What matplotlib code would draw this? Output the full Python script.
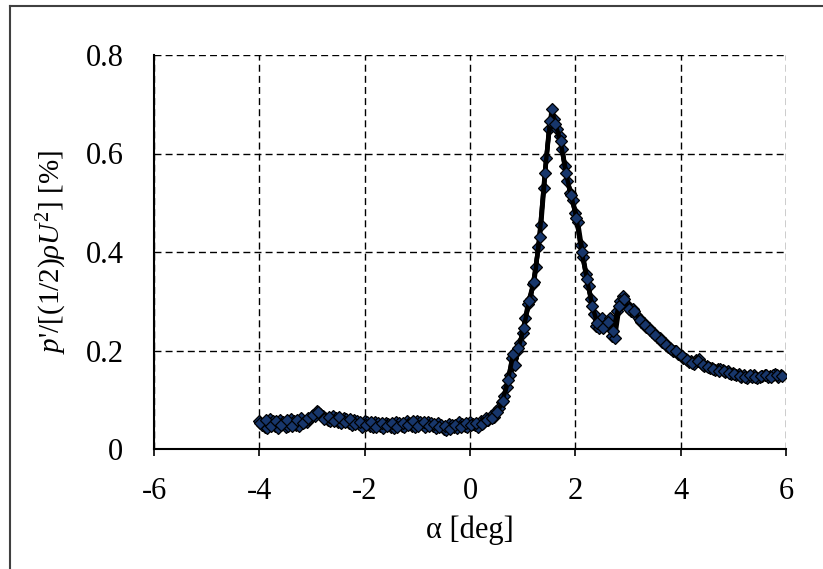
import matplotlib
matplotlib.use("Agg")
import matplotlib.pyplot as plt
from matplotlib.lines import Line2D

plt.rcParams['font.family'] = ['Liberation Serif', 'DejaVu Serif']
plt.rcParams['mathtext.fontset'] = 'custom'
plt.rcParams['mathtext.rm'] = 'Liberation Serif'
plt.rcParams['mathtext.it'] = 'Liberation Serif:italic'

# sweep A
alpha_a = [-4.0, -3.9, -3.8, -3.7, -3.6, -3.5, -3.4, -3.3, -3.2, -3.1,
           -3.0, -2.9, -2.8, -2.7, -2.6, -2.5, -2.4, -2.3, -2.2, -2.1,
           -2.0, -1.9, -1.8, -1.7, -1.6, -1.5, -1.4, -1.3, -1.2, -1.1,
           -1.0, -0.9, -0.8, -0.7, -0.6, -0.5, -0.4, -0.3, -0.2, -0.1,
           0.0, 0.1, 0.2, 0.3, 0.4, 0.5, 0.6, 0.7, 0.8, 0.9,
           1.0, 1.1, 1.2, 1.3, 1.4, 1.5, 1.6, 1.7, 1.8, 1.9,
           2.0, 2.1, 2.2, 2.3, 2.4, 2.5, 2.6, 2.7, 2.8, 2.9,
           3.0, 3.1, 3.2, 3.3, 3.4, 3.5, 3.6, 3.7, 3.8, 3.9,
           4.0, 4.1, 4.2, 4.3, 4.4, 4.5, 4.6, 4.7, 4.8, 4.9,
           5.0, 5.1, 5.2, 5.3, 5.4, 5.5, 5.6, 5.7, 5.8, 5.9]
p_a = [0.057, 0.045, 0.060, 0.047, 0.058, 0.044, 0.060, 0.049, 0.062, 0.055,
       0.066, 0.078, 0.067, 0.058, 0.066, 0.055, 0.063, 0.053, 0.059, 0.050,
       0.057, 0.047, 0.055, 0.046, 0.053, 0.045, 0.054, 0.046, 0.056, 0.047,
       0.057, 0.048, 0.055, 0.046, 0.053, 0.041, 0.051, 0.044, 0.054, 0.046,
       0.055, 0.048, 0.056, 0.062, 0.068, 0.078, 0.095, 0.125, 0.185, 0.200,
       0.235, 0.295, 0.335, 0.410, 0.530, 0.650, 0.670, 0.635, 0.575, 0.520,
       0.480, 0.415, 0.355, 0.305, 0.250, 0.265, 0.255, 0.230, 0.280, 0.310,
       0.290, 0.285, 0.265, 0.255, 0.245, 0.235, 0.225, 0.215, 0.205, 0.200,
       0.190, 0.182, 0.178, 0.180, 0.172, 0.168, 0.165, 0.163, 0.160, 0.158,
       0.155, 0.152, 0.150, 0.148, 0.150, 0.147, 0.151, 0.149, 0.152, 0.150]

# sweep B
alpha_b = [-3.95, -3.85, -3.75, -3.65, -3.55, -3.45, -3.35, -3.25, -3.15, -3.05,
           -2.95, -2.85, -2.75, -2.65, -2.55, -2.45, -2.35, -2.25, -2.15, -2.05,
           -1.95, -1.85, -1.75, -1.65, -1.55, -1.45, -1.35, -1.25, -1.15, -1.05,
           -0.95, -0.85, -0.75, -0.65, -0.55, -0.45, -0.35, -0.25, -0.15, -0.05,
           0.05, 0.15, 0.25, 0.35, 0.45, 0.55, 0.65, 0.75, 0.85, 0.95,
           1.05, 1.15, 1.25, 1.35, 1.45, 1.55, 1.65, 1.75, 1.85, 1.95,
           2.05, 2.15, 2.25, 2.35, 2.45, 2.55, 2.65, 2.75, 2.85, 2.95,
           3.05, 3.15, 3.25, 3.35, 3.45, 3.55, 3.65, 3.75, 3.85, 3.95,
           4.05, 4.15, 4.25, 4.35, 4.45, 4.55, 4.65, 4.75, 4.85, 4.95,
           5.05, 5.15, 5.25, 5.35, 5.45, 5.55, 5.65, 5.75, 5.85]
p_b = [0.049, 0.042, 0.056, 0.043, 0.054, 0.046, 0.057, 0.047, 0.055, 0.060,
       0.068, 0.072, 0.062, 0.057, 0.062, 0.052, 0.060, 0.049, 0.056, 0.045,
       0.054, 0.044, 0.052, 0.043, 0.051, 0.042, 0.052, 0.044, 0.053, 0.045,
       0.054, 0.044, 0.052, 0.043, 0.048, 0.039, 0.048, 0.042, 0.051, 0.044,
       0.050, 0.045, 0.053, 0.058, 0.065, 0.083, 0.108, 0.150, 0.170, 0.215,
       0.265, 0.305, 0.370, 0.455, 0.590, 0.690, 0.650, 0.610, 0.545, 0.505,
       0.460, 0.390, 0.330, 0.275, 0.245, 0.250, 0.265, 0.225, 0.300, 0.295,
       0.280, 0.272, 0.258, 0.248, 0.238, 0.228, 0.218, 0.208, 0.198, 0.193,
       0.185, 0.176, 0.172, 0.183, 0.168, 0.164, 0.160, 0.162, 0.156, 0.153,
       0.150, 0.147, 0.145, 0.146, 0.144, 0.148, 0.146, 0.150, 0.147]

# sweep C
alpha_c = [-3.98, -3.88, -3.78, -3.68, -3.58, -3.48, -3.38, -3.28, -3.18, -3.08,
           -2.98, -2.88, -2.78, -2.68, -2.58, -2.48, -2.38, -2.28, -2.18, -2.08,
           -1.98, -1.88, -1.78, -1.68, -1.58, -1.48, -1.38, -1.28, -1.18, -1.08,
           -0.98, -0.88, -0.78, -0.68, -0.58, -0.48, -0.38, -0.28, -0.18, -0.08,
           0.02, 0.12, 0.22, 0.32, 0.42, 0.52, 0.62, 0.72, 0.82, 0.92,
           1.02, 1.12, 1.22, 1.32, 1.42, 1.52, 1.62, 1.72, 1.82, 1.92,
           2.02, 2.12, 2.22, 2.32, 2.42, 2.52, 2.62, 2.72, 2.82, 2.92,
           3.02, 3.12, 3.22, 3.32, 3.42, 3.52, 3.62, 3.72, 3.82, 3.92,
           4.02, 4.12, 4.22, 4.32, 4.42, 4.52, 4.62, 4.72, 4.82, 4.92,
           5.02, 5.12, 5.22, 5.32, 5.42, 5.52, 5.62, 5.72, 5.82, 5.92]
p_c = [0.052, 0.058, 0.046, 0.057, 0.048, 0.059, 0.046, 0.058, 0.052, 0.063,
       0.070, 0.075, 0.060, 0.064, 0.056, 0.065, 0.054, 0.060, 0.050, 0.055,
       0.049, 0.054, 0.045, 0.052, 0.046, 0.052, 0.044, 0.053, 0.048, 0.056,
       0.047, 0.055, 0.047, 0.051, 0.044, 0.046, 0.040, 0.049, 0.045, 0.052,
       0.048, 0.052, 0.050, 0.058, 0.063, 0.075, 0.098, 0.140, 0.192, 0.205,
       0.245, 0.300, 0.340, 0.430, 0.560, 0.665, 0.660, 0.625, 0.560, 0.515,
       0.470, 0.400, 0.345, 0.290, 0.255, 0.245, 0.258, 0.240, 0.290, 0.305,
       0.285, 0.280, 0.262, 0.252, 0.242, 0.232, 0.222, 0.212, 0.203, 0.198,
       0.188, 0.180, 0.175, 0.178, 0.170, 0.166, 0.162, 0.158, 0.158, 0.155,
       0.153, 0.149, 0.147, 0.150, 0.147, 0.149, 0.151, 0.147, 0.151, 0.149]

x_ticks = [-6, -4, -2, 0, 2, 4, 6]
x_labels = ['-6', '-4', '-2', '0', '2', '4', '6']
y_ticks = [0, 0.2, 0.4, 0.6, 0.8]
y_labels = ['0', '0.2', '0.4', '0.6', '0.8']

fig = plt.figure(figsize=(8.23, 5.69), dpi=100)
ax = fig.add_axes([154/823, 120/569, 632/823, 394/569])

for xs, ys in ((alpha_a, p_a), (alpha_b, p_b), (alpha_c, p_c)):
    ax.plot(xs, ys, color='black', lw=3.2, marker='D', markersize=6,
            markerfacecolor='#17366b', markeredgecolor='black',
            markeredgewidth=0.9, zorder=3)

ax.set_xlim(-6, 6)
ax.set_ylim(0, 0.8)
ax.set_xticks(x_ticks)
ax.set_xticklabels(x_labels)
ax.set_yticks(y_ticks)
ax.set_yticklabels(y_labels)
ax.grid(True, color='black', linestyle=(0, (5, 3)), linewidth=1.0)
ax.set_axisbelow(True)
for s in ('top', 'right'):
    ax.spines[s].set_visible(False)
for s in ('left', 'bottom'):
    ax.spines[s].set_linewidth(1.5)
ax.tick_params(axis='x', direction='out', length=5, width=1.2,
               labelsize=22, pad=15)
ax.tick_params(axis='y', length=0, labelsize=22, pad=22)

ax.set_xlabel('α [deg]', fontsize=22, labelpad=7)
ax.set_ylabel(r"$p$'/[(1/2)$\rho U^2$] [%]", fontsize=21, labelpad=12)

fig.add_artist(Line2D([10/823, 10/823], [0, 1 - 6/569], transform=fig.transFigure,
                      color='#404040', lw=1.5))
fig.add_artist(Line2D([10/823, 1], [1 - 6/569, 1 - 6/569], transform=fig.transFigure,
                      color='#404040', lw=1.5))

fig.savefig('out.png', dpi=100)
